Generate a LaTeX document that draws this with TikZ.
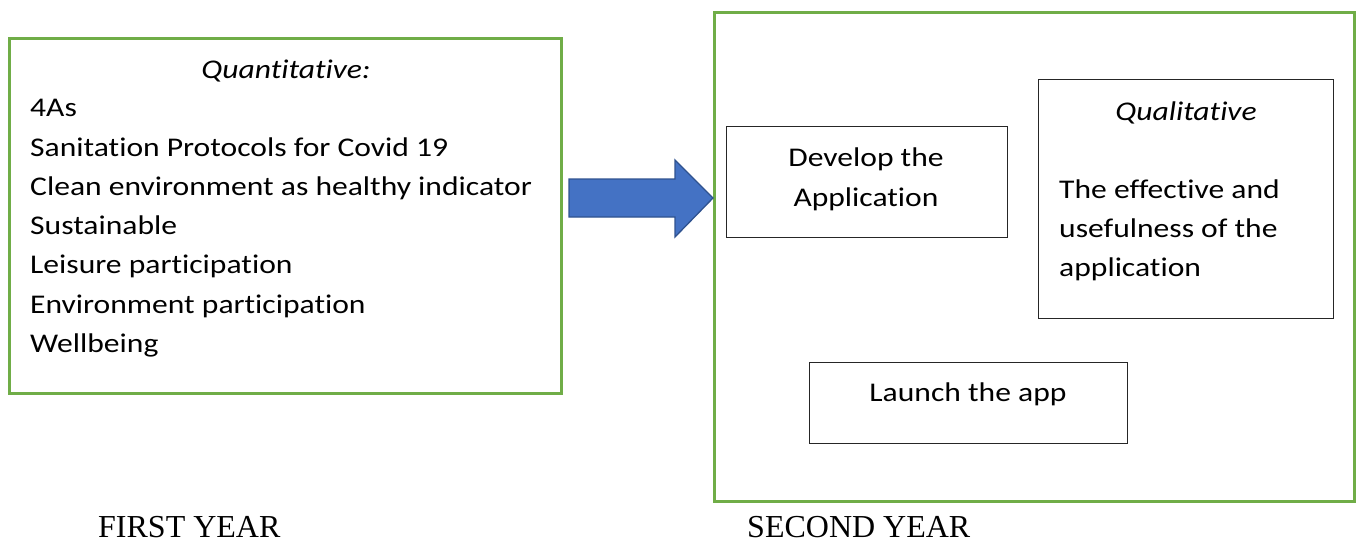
\documentclass[tikz,border=0pt]{standalone}
\usepackage{fontspec}
\setmainfont{Carlito}[FakeStretch=1.17, Ligatures=NoCommon]
\newfontfamily\yearfont{Liberation Serif}
\definecolor{boxgreen}{HTML}{70AD47}
\definecolor{arrowfill}{HTML}{4472C4}
\definecolor{arrowline}{HTML}{2F528F}
\begin{document}
\begin{tikzpicture}[x=1pt,y=-1pt,
  greenbox/.style={draw=boxgreen, line width=2.5pt, anchor=north west, inner sep=0pt},
  blackbox/.style={draw=black!85, line width=1.3pt, anchor=north west, inner sep=0pt},
  txt/.style={inner sep=0pt, text=black, font=\fontsize{27}{39}\selectfont},
  yearlabel/.style={inner sep=0pt, anchor=base west, font=\yearfont\fontsize{32}{36}\selectfont}]
\useasboundingbox (0,0) rectangle (1359,542);

% first year frame
\node[greenbox, minimum width=552pt, minimum height=355pt] (first) at (8,37) {};
\node[txt, anchor=base, font=\fontsize{27}{39}\selectfont\itshape] (quanthead) at (286,78) {Quantitative:};
\foreach \t [count=\i] in {4As,Sanitation Protocols for Covid 19,Clean environment as healthy indicator,Sustainable,Leisure participation,Environment participation,Wellbeing}
  \node[txt, anchor=base west] (item\i) at (30,{116.7+39.3*(\i-1)}) {\t};

% second year frame
\node[greenbox, minimum width=640pt, minimum height=489pt] (second) at (713,11) {};

\node[blackbox, minimum width=281pt, minimum height=111pt] (develop) at (726,126) {};
\node[txt, anchor=base] (dev1) at (866,166.7) {Develop the};
\node[txt, anchor=base] (dev2) at (866,206) {Application};

\node[blackbox, minimum width=295pt, minimum height=239pt] (qual) at (1038,79) {};
\node[txt, anchor=base, font=\fontsize{27}{39}\selectfont\itshape] (qualhead) at (1186,120) {Qualitative};
\node[txt, anchor=base west] (qual1) at (1059,198) {The effective and};
\node[txt, anchor=base west] (qual2) at (1059,237) {usefulness of the};
\node[txt, anchor=base west] (qual3) at (1059,276) {application};

\node[blackbox, minimum width=318pt, minimum height=81pt] (launch) at (809,362) {};
\node[txt, anchor=base] (launchtxt) at (968,401.5) {Launch the app};

% block arrow from the first year to the second year
\coordinate (tail) at (569,198);
\coordinate (tip) at (second.west |- tail);
\draw[fill=arrowfill, draw=arrowline, line width=1.3pt, line join=miter]
  ([yshift=-19pt]tail) -- ([xshift=-38pt,yshift=-19pt]tip) -- ([xshift=-38pt,yshift=-39pt]tip)
  -- (tip) -- ([xshift=-38pt,yshift=38pt]tip) -- ([xshift=-38pt,yshift=19pt]tip)
  -- ([yshift=19pt]tail) -- cycle;

% year captions
\node[yearlabel] (firstyear) at (98,537) {FIRST YEAR};
\node[yearlabel] (secondyear) at (747,537) {SECOND YEAR};
\end{tikzpicture}
\end{document}
